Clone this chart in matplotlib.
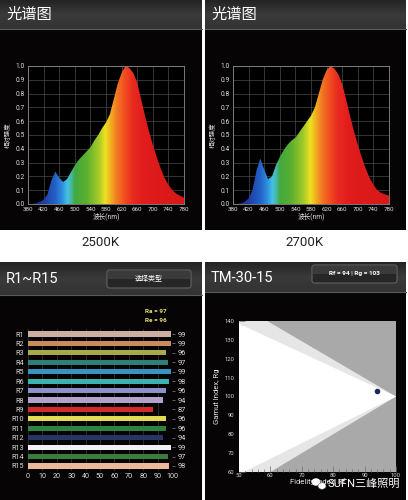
#!/usr/bin/env python3
"""Spectrum / CRI / TM-30 summary card, 408x500."""

import numpy as np
import matplotlib
matplotlib.use("Agg")
import matplotlib.pyplot as plt
from matplotlib.colors import LinearSegmentedColormap
from matplotlib.patches import Rectangle, FancyBboxPatch, Ellipse

plt.rcParams["font.family"] = ["Roboto", "Noto Sans CJK SC", "DejaVu Sans"]

W, H = 408, 500

# ---- data -----------------------------------------------------------------
wavelength = [380, 390, 400, 410, 420, 430, 440, 450, 460, 470,
              480, 490, 500, 510, 520, 530, 540, 550, 560, 570,
              580, 590, 600, 610, 620, 630, 640, 650, 660, 670,
              680, 690, 700, 710, 720, 730, 740, 750, 760, 770, 780]
spd_2500k = [0.0, 0.0, 0.005, 0.015, 0.03, 0.07, 0.17, 0.235, 0.19, 0.16,
             0.18, 0.23, 0.28, 0.32, 0.35, 0.38, 0.41, 0.46, 0.50, 0.55,
             0.59, 0.65, 0.76, 0.87, 0.95, 1.0, 0.985, 0.95, 0.88, 0.76,
             0.64, 0.53, 0.43, 0.34, 0.26, 0.19, 0.14, 0.10, 0.075, 0.06, 0.045]
spd_2700k = [0.0, 0.0, 0.005, 0.015, 0.04, 0.10, 0.24, 0.33, 0.25, 0.18,
             0.20, 0.28, 0.34, 0.39, 0.43, 0.46, 0.48, 0.52, 0.56, 0.60,
             0.64, 0.70, 0.80, 0.90, 0.97, 1.0, 0.98, 0.94, 0.87, 0.76,
             0.64, 0.53, 0.43, 0.34, 0.26, 0.19, 0.14, 0.10, 0.08, 0.07, 0.06]
cct_labels = ["2500K", "2700K"]

cri_names = ["R1", "R2", "R3", "R4", "R5", "R6", "R7", "R8",
             "R9", "R10", "R11", "R12", "R13", "R14", "R15"]
cri_values = [99, 99, 96, 97, 99, 98, 96, 94, 87, 96, 96, 94, 99, 97, 98]
cri_colors = ["#cdaea2", "#c98a5c", "#a9a94a", "#2f8078", "#3a92c2",
              "#3ab2b2", "#8c92c8", "#b3a2c9", "#d42a2a", "#e2da52",
              "#2f8242", "#263766", "#f2eff6", "#3a7c3c", "#eab99a"]
ra_value, re_value = 97, 96

rf_value, rg_value = 94, 103
gamut_outer_rf = [50, 59, 100, 60, 50]
gamut_outer_rg = [140, 140, 100, 60, 60]
gamut_inner_rf = [50, 100, 51.5, 50]
gamut_inner_rg = [138.5, 100, 60, 60]

# spectral colour stops (nm, colour)
spec_stops = [(380, "#1a1a7a"), (420, "#1f3fa8"), (450, "#2462c8"),
              (468, "#3090e0"), (480, "#42c2e6"), (490, "#48b8a8"),
              (500, "#42a840"), (530, "#5cb030"), (560, "#a2c828"),
              (578, "#ece222"), (592, "#f2b020"), (610, "#f27422"),
              (630, "#f04a20"), (650, "#e82a20"), (680, "#e01c1c"),
              (780, "#d81818")]


def box(x0, y0, x1, y1):
    return [x0 / W, 1 - y1 / H, (x1 - x0) / W, (y1 - y0) / H]


fig = plt.figure(figsize=(W / 100, H / 100), dpi=100)
fig.patch.set_facecolor("white")

bg = fig.add_axes([0, 0, 1, 1])
bg.set_xlim(0, W)
bg.set_ylim(H, 0)
bg.axis("off")

head_grad = np.linspace(0, 1, 64)[:, None]
head_cmap = LinearSegmentedColormap.from_list("head", ["#242424", "#3a3a3a", "#333333"])


def panel(x0, y0, x1, y1, head_bottom, title, title_size=10.5):
    bg.add_patch(Rectangle((x0, y0), x1 - x0, y1 - y0, facecolor="#060404",
                           edgecolor="none", zorder=0))
    bg.imshow(head_grad, cmap=head_cmap, aspect="auto", origin="upper",
              extent=[x0, x1, head_bottom, y0], zorder=1)
    bg.plot([x0, x1], [head_bottom, head_bottom], color="#5a5a5a", lw=0.8, zorder=2)
    bg.text(x0 + 6, (y0 + head_bottom) / 2 + 0.5, title, color="white",
            fontsize=title_size, va="center", ha="left", zorder=3)


def button(x0, y0, x1, y1, label, size=5, weight="normal"):
    bg.add_patch(FancyBboxPatch((x0, y0), x1 - x0, y1 - y0,
                                boxstyle="round,pad=0,rounding_size=2.5",
                                facecolor="#262626", edgecolor="#6a6a6a",
                                lw=0.7, zorder=4))
    bg.add_patch(Rectangle((x0 + 1, y0 + 1), x1 - x0 - 2, (y1 - y0) / 2 - 1,
                           facecolor="#3a3a3a", edgecolor="none", zorder=4))
    bg.text((x0 + x1) / 2, (y0 + y1) / 2, label, color="white", fontsize=size,
            fontweight=weight, ha="center", va="center", zorder=5)


panel(0, 0, 202, 230, 29, "光谱图", 11)
panel(205, 0, 406, 230, 29, "光谱图", 11)
panel(0, 262, 202, 500, 295, "R1~R15")
panel(205, 262, 406, 500, 292, "TM-30-15")
button(107, 270, 191, 288, "选择类型")
button(312, 265, 397, 283, "Rf = 94 | Rg = 103", size=4.6, weight="bold")

# ---- spectra ----------------------------------------------------------------
nm0, nm1 = spec_stops[0][0], spec_stops[-1][0]
spec_cmap = LinearSegmentedColormap.from_list(
    "spec", [((w - nm0) / (nm1 - nm0), c) for w, c in spec_stops])
spec_img = np.linspace(0, 1, 400)[None, :]

for (ax_left, ax_right), spd, lab in zip([(28, 184), (233, 389)],
                                          [spd_2500k, spd_2700k], cct_labels):
    ax = fig.add_axes(box(ax_left, 66, ax_right, 204))
    ax.set_facecolor("#000000")
    ax.set_xlim(380, 780)
    ax.set_ylim(0, 1.0)
    ax.set_xticks(np.arange(380, 781, 40))
    ax.set_yticks(np.arange(0, 1.01, 0.1))
    ax.set_yticklabels([f"{v:.1f}" for v in np.arange(0, 1.01, 0.1)])
    ax.grid(True, color="#4a4a4a", lw=0.5)
    ax.set_axisbelow(True)
    for s in ax.spines.values():
        s.set_color("#8a8a8a")
        s.set_linewidth(0.6)
    ax.tick_params(length=0, pad=2.5, colors="#e0e0e0", labelsize=4.8)
    ax.tick_params(axis="x", pad=2.5, labelsize=4.5)
    ax.set_xlabel("波长(nm)", color="#e0e0e0", fontsize=4.8, labelpad=0)
    ax.set_ylabel("相对强度", color="#e0e0e0", fontsize=4.6, labelpad=3)
    im = ax.imshow(spec_img, cmap=spec_cmap, aspect="auto",
                   extent=[380, 780, 0, 1], zorder=2)
    poly, = ax.fill(wavelength + [780, 380], spd + [0, 0],
                    facecolor="none", edgecolor="none")
    im.set_clip_path(poly)
    bg.text((ax_left + ax_right) / 2 - 6, 242, lab, fontsize=9.5,
            color="#222222", ha="center", va="center")

# ---- R1~R15 ----------------------------------------------------------------
axb = fig.add_axes(box(28, 329.3, 172, 470.7))
axb.set_facecolor("#060404")
pos = np.arange(len(cri_names))
axb.barh(pos, cri_values, height=0.55, color=cri_colors, zorder=3)
axb.set_xlim(0, 100)
axb.set_ylim(len(cri_names) - 0.5, -0.5)
axb.set_xticks(np.arange(0, 101, 10))
axb.set_yticks(pos)
axb.set_yticklabels(cri_names)
axb.grid(True, axis="x", color="#333333", lw=0.6)
for s in axb.spines.values():
    s.set_visible(False)
axb.tick_params(length=0, colors="#dddddd", labelsize=5.2, pad=3)
axb.tick_params(axis="x", pad=2)
axr = axb.twinx()
axr.set_ylim(axb.get_ylim())
axr.set_yticks(pos)
axr.set_yticklabels([str(v) for v in cri_values])
axr.tick_params(length=2.5, width=0.5, color="#888888", colors="#dddddd",
                labelsize=5.4, pad=1.5)
for s in axr.spines.values():
    s.set_visible(False)
bg.text(156, 311.5, f"Ra = {ra_value}", color="#e4e070", fontsize=4.6,
        fontweight="bold", ha="center", va="center", zorder=5)
bg.text(156, 320.5, f"Re = {re_value}", color="#e4e070", fontsize=4.6,
        fontweight="bold", ha="center", va="center", zorder=5)

# ---- TM-30 -----------------------------------------------------------------
axt = fig.add_axes(box(239, 321, 396, 472))
axt.set_facecolor("#a9a9a9")
axt.fill(gamut_outer_rf, gamut_outer_rg, color="#e6e6e6", lw=0, zorder=1)
axt.fill(gamut_inner_rf, gamut_inner_rg, color="#ffffff", lw=0, zorder=2)
axt.plot([rf_value], [rg_value], "o", color="#1c2a55", ms=3, zorder=4)
axt.set_xlim(50, 100)
axt.set_ylim(60, 140)
axt.set_xticks(np.arange(50, 101, 10))
axt.set_yticks(np.arange(60, 141, 10))
axt.set_xticks(np.arange(50, 101, 2), minor=True)
axt.set_yticks(np.arange(60, 141, 2), minor=True)
for s in axt.spines.values():
    s.set_visible(False)
axt.tick_params(which="both", direction="in", color="#6a6a6a", width=0.5,
                colors="#d8d8d8", labelsize=4.2)
axt.tick_params(which="major", length=4)
axt.tick_params(which="minor", length=2.5)
axt.tick_params(axis="y", pad=3.5)
axt.tick_params(axis="x", pad=0.5)
axt.set_xlabel("Fidelity Index, Rf", color="#e8e8e8", fontsize=5.5, labelpad=0.5)
axt.set_ylabel("Gamut Index, Rg", color="#e8e8e8", fontsize=5.5, labelpad=3)

# watermark
bg.add_patch(Ellipse((316, 482), 9, 7.5, facecolor="white", edgecolor="none", zorder=6))
bg.add_patch(Ellipse((322, 486), 8, 6.5, facecolor="white", edgecolor="#555555",
                     lw=0.4, zorder=6))
bg.text(327, 483.5, "SUFN三峰照明", color="white", fontsize=8, ha="left",
        va="center", zorder=6)

fig.savefig("out.png", dpi=100, facecolor=fig.get_facecolor())
